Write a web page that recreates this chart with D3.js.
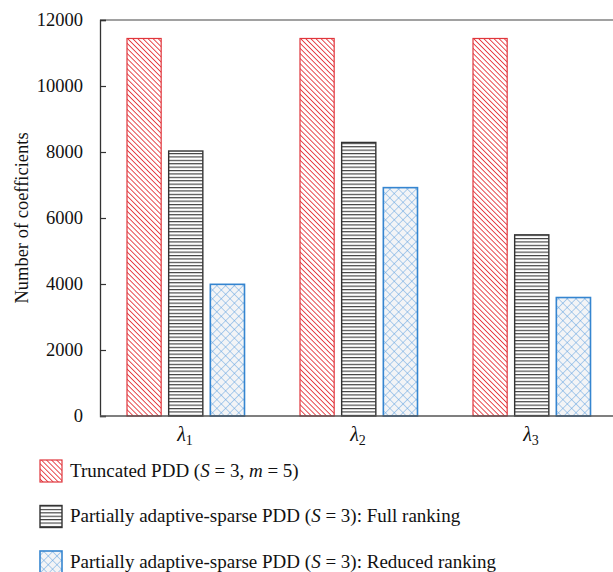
<!DOCTYPE html>
<html>
<head>
<meta charset="utf-8">
<script src="https://cdn.jsdelivr.net/npm/d3@7"></script>
<style>
  svg text, svg tspan { font-family: "Liberation Serif", "Times New Roman", serif !important; }
</style>
</head>
<body style="margin:0">
<svg id="chart" width="613" height="572"></svg>
<script>
// Categories (λ cases) and series
const categories = ["1", "2", "3"];
const seriesKeys = ["truncated", "full", "reduced"];
const truncated = [11440, 11440, 11440];
const fullRanking = [8030, 8290, 5490];
const reducedRanking = [3990, 6920, 3590];
const yTicks = [0, 2000, 4000, 6000, 8000, 10000, 12000];

const seriesValues = { truncated: truncated, full: fullRanking, reduced: reducedRanking };
const FONT = "Liberation Serif";

const svg = d3.select("#chart");
const defs = svg.append("defs");

// Hatch patterns
const pRed = defs.append("pattern").attr("id", "hatchRed")
  .attr("patternUnits", "userSpaceOnUse").attr("width", 3.6).attr("height", 3.6)
  .attr("patternTransform", "rotate(-45)");
pRed.append("rect").attr("width", 3.6).attr("height", 3.6).attr("fill", "#fff");
pRed.append("line").attr("x1", 0).attr("y1", 0).attr("x2", 0).attr("y2", 3.6)
  .attr("stroke", "#e5393f").attr("stroke-width", 1.8);

const pBlack = defs.append("pattern").attr("id", "hatchBlack")
  .attr("patternUnits", "userSpaceOnUse").attr("width", 8).attr("height", 3.4);
pBlack.append("rect").attr("width", 8).attr("height", 3.4).attr("fill", "#fff");
pBlack.append("line").attr("x1", 0).attr("y1", 0.6).attr("x2", 8).attr("y2", 0.6)
  .attr("stroke", "#222").attr("stroke-width", 1);

const pBlue = defs.append("pattern").attr("id", "hatchBlue")
  .attr("patternUnits", "userSpaceOnUse").attr("width", 6.2).attr("height", 6.2)
  .attr("patternTransform", "rotate(45)");
pBlue.append("rect").attr("width", 6.2).attr("height", 6.2).attr("fill", "#f3f4f6");
pBlue.append("line").attr("x1", 0).attr("y1", 0).attr("x2", 6.2).attr("y2", 0)
  .attr("stroke", "#5a9ee0").attr("stroke-width", 0.9);
pBlue.append("line").attr("x1", 0).attr("y1", 0).attr("x2", 0).attr("y2", 6.2)
  .attr("stroke", "#5a9ee0").attr("stroke-width", 0.9);

const styles = {
  truncated: { fill: "url(#hatchRed)", stroke: "#e0363c", sw: 1.2 },
  full: { fill: "url(#hatchBlack)", stroke: "#333", sw: 1.4 },
  reduced: { fill: "url(#hatchBlue)", stroke: "#3585d0", sw: 1.6 }
};

const plotLeft = 100, plotRight = 613, plotTop = 20, plotBottom = 416;

const y = d3.scaleLinear().domain([0, 12000]).range([plotBottom, plotTop]);
const x0 = d3.scaleBand().domain(categories).range([98.5, 617.5]).padding(0);
const x1 = d3.scaleBand().domain(seriesKeys).range([28.5, 146]).paddingInner(0.18).paddingOuter(0);

// Top frame line
svg.append("line").attr("x1", plotLeft).attr("x2", plotRight).attr("y1", y(12000)).attr("y2", y(12000))
  .attr("stroke", "#444").attr("stroke-width", 1.2);

// Bars
const groups = svg.append("g").selectAll("g").data(categories).join("g")
  .attr("transform", d => `translate(${x0(d)},0)`);
groups.selectAll("rect")
  .data((c, i) => seriesKeys.map(k => ({ key: k, value: seriesValues[k][i] })))
  .join("rect")
  .attr("x", d => x1(d.key))
  .attr("width", x1.bandwidth())
  .attr("y", d => y(d.value))
  .attr("height", d => y(0) - y(d.value))
  .attr("fill", d => styles[d.key].fill)
  .attr("stroke", d => styles[d.key].stroke)
  .attr("stroke-width", d => styles[d.key].sw);

// Y axis
const yAxis = d3.axisLeft(y).tickValues(yTicks).tickSize(-6).tickPadding(17).tickFormat(d3.format("d"));
const gy = svg.append("g").attr("transform", `translate(${plotLeft},0)`).call(yAxis)
  .attr("font-family", FONT).attr("font-size", 18.5);
gy.select(".domain").attr("stroke", "#333").attr("stroke-width", 1.3);
gy.selectAll(".tick line").attr("stroke", "#333").attr("stroke-width", 1.2);
gy.selectAll(".tick text").style("font-family", FONT).attr("fill", "#111");

// X axis line
svg.append("line").attr("x1", plotLeft).attr("x2", plotRight).attr("y1", plotBottom).attr("y2", plotBottom)
  .attr("stroke", "#555").attr("stroke-width", 1.3);

// Category labels λ with subscripts
const xl = svg.append("g").selectAll("text").data(categories).join("text")
  .attr("x", d => x0(d) + x0.bandwidth() / 2)
  .attr("y", 441)
  .attr("text-anchor", "middle")
  .attr("font-size", 20)
  .style("font-family", FONT)
  .attr("fill", "#111");
xl.append("tspan").attr("font-style", "italic").text("λ");
xl.append("tspan").attr("font-size", 14).attr("dy", 4).text(d => d);

// Y-axis title
svg.append("text")
  .attr("transform", `translate(28,${(plotTop + plotBottom) / 2}) rotate(-90)`)
  .attr("text-anchor", "middle")
  .attr("font-size", 18.5)
  .style("font-family", FONT)
  .attr("fill", "#111")
  .text("Number of coefficients");

// Legend
const legendItems = [
  { key: "truncated", parts: [["Truncated PDD (", 0], ["S", 1], [" = 3, ", 0], ["m", 1], [" = 5)", 0]] },
  { key: "full", parts: [["Partially adaptive-sparse PDD (", 0], ["S", 1], [" = 3): Full ranking", 0]] },
  { key: "reduced", parts: [["Partially adaptive-sparse PDD (", 0], ["S", 1], [" = 3): Reduced ranking", 0]] }
];
const lg = svg.append("g").selectAll("g").data(legendItems).join("g")
  .attr("transform", (d, i) => `translate(0,${460 + i * 45.5})`);
lg.append("rect")
  .attr("x", 40).attr("y", 0).attr("width", 22).attr("height", 22)
  .attr("fill", d => styles[d.key].fill)
  .attr("stroke", d => styles[d.key].stroke)
  .attr("stroke-width", d => styles[d.key].sw);
const lt = lg.append("text").attr("x", 70).attr("y", 16.5)
  .attr("font-size", 19).style("font-family", FONT).attr("fill", "#111");
lt.each(function(d) {
  const t = d3.select(this);
  d.parts.forEach(p => {
    t.append("tspan").attr("font-style", p[1] ? "italic" : "normal").text(p[0]);
  });
});
</script>
</body>
</html>
